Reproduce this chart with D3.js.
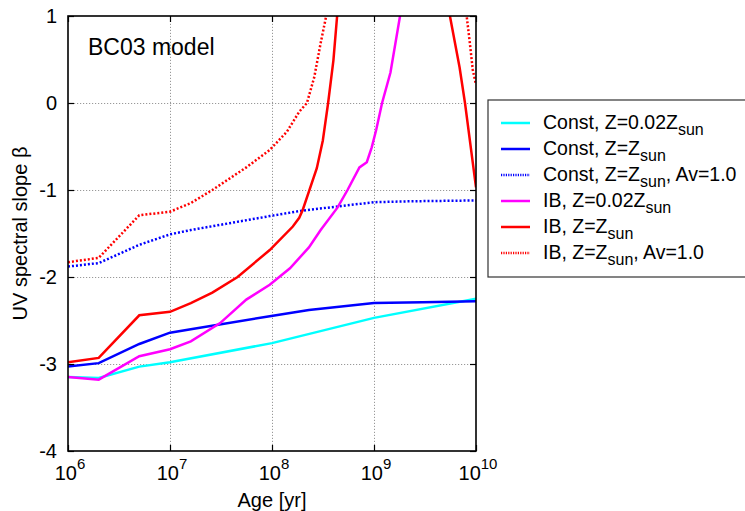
<!DOCTYPE html>
<html>
<head>
<meta charset="utf-8">
<script src="https://cdn.jsdelivr.net/npm/d3@7"></script>
<style>
  body { margin: 0; background: #fff; }
  text { font-family: "Liberation Sans", Arial, sans-serif; fill: #000; }
</style>
</head>
<body>
<script>
// ages in yr, beta = UV spectral slope
const ageConstLow = [1e6, 2e6, 5e6, 1e7, 1e8, 1e9, 1e10];
const betaConstLow = [-3.15, -3.16, -3.03, -2.98, -2.76, -2.47, -2.25];

const ageConstSun = [1e6, 2e6, 5e6, 1e7, 1.6e7, 9.5e7, 2.3e8, 1e9, 3e9, 1e10];
const betaConstSun = [-3.03, -2.99, -2.77, -2.64, -2.60, -2.45, -2.38, -2.30, -2.29, -2.28];

const ageConstDust = [1e6, 2e6, 5e6, 1e7, 1.6e7, 9.5e7, 1.9e8, 1e9, 2.2e9, 1e10];
const betaConstDust = [-1.88, -1.84, -1.63, -1.51, -1.46, -1.30, -1.24, -1.14, -1.13, -1.12];

const ageIBLow = [1e6, 2e6, 5e6, 1e7, 1.6e7, 3.1e7, 5.6e7, 9.5e7, 1.5e8, 2.3e8, 3.0e8, 4.4e8,
                  5.5e8, 7.2e8, 8.5e8, 9.5e8, 1.05e9, 1.2e9, 1.45e9, 1.8e9, 2.0e9];
const betaIBLow = [-3.15, -3.18, -2.91, -2.83, -2.74, -2.53, -2.26, -2.09, -1.90, -1.66, -1.46, -1.20,
                   -1.00, -0.74, -0.68, -0.51, -0.31, 0.0, 0.35, 1.0, 1.36];

const ageIBSun = [1e6, 2e6, 5e6, 1e7, 1.6e7, 2.6e7, 4.6e7, 9.5e7, 1.6e8, 1.85e8, 2.0e8, 2.75e8,
                  3.15e8, 3.55e8, 4.0e8, 4.35e8, 4.8e8, 2e9, 5.0e9, 5.55e9, 6.9e9, 7.8e9, 1e10];
const betaIBSun = [-2.98, -2.93, -2.44, -2.40, -2.30, -2.18, -2.00, -1.69, -1.42, -1.32, -1.23, -0.75,
                   -0.43, 0.0, 0.49, 1.0, 1.5, 3.0, 1.3, 1.0, 0.41, 0.0, -0.97];

const ageIBDust = [1e6, 2e6, 5e6, 1e7, 1.6e7, 2.6e7, 5.6e7, 9.5e7, 1.4e8, 1.85e8, 2.2e8, 2.6e8,
                   3.0e8, 3.4e8, 3.7e8, 2e9, 7.4e9, 8.1e9, 8.7e9, 9.3e9, 1e10];
const betaIBDust = [-1.83, -1.78, -1.29, -1.25, -1.15, -1.00, -0.74, -0.54, -0.33, -0.10, 0.0, 0.30,
                    0.69, 1.0, 1.4, 3.0, 1.4, 1.0, 0.69, 0.38, 0.21];

const xTicks = [1e6, 1e7, 1e8, 1e9, 1e10];
const xTickExp = ["6", "7", "8", "9", "10"];
const yTicks = [1, 0, -1, -2, -3, -4];

// legend: [main text, subscript, trailing text]
const series = [
  {age: ageConstLow, beta: betaConstLow, color: "#00ffff", dash: null, label: ["Const, Z=0.02Z", "sun", ""]},
  {age: ageConstSun, beta: betaConstSun, color: "#0000ff", dash: null, label: ["Const, Z=Z", "sun", ""]},
  {age: ageConstDust, beta: betaConstDust, color: "#0000ff", dash: "2,2", label: ["Const, Z=Z", "sun", ", Av=1.0"]},
  {age: ageIBLow, beta: betaIBLow, color: "#ff00ff", dash: null, label: ["IB, Z=0.02Z", "sun", ""]},
  {age: ageIBSun, beta: betaIBSun, color: "#ff0000", dash: null, label: ["IB, Z=Z", "sun", ""]},
  {age: ageIBDust, beta: betaIBDust, color: "#ff0000", dash: "2,2", label: ["IB, Z=Z", "sun", ", Av=1.0"]}
];

var margin = {top: 16, right: 269, bottom: 60, left: 68},
  width = 745 - margin.left - margin.right,
  height = 511 - margin.top - margin.bottom;

var svg = d3.select("body").append("svg")
  .attr("width", 745)
  .attr("height", 511);

var g = svg.append("g")
  .attr("transform", "translate(" + margin.left + "," + margin.top + ")");

var x = d3.scaleLog().domain([1e6, 1e10]).range([0, width]);
var y = d3.scaleLinear().domain([-4, 1]).range([height, 0]);

// grid
g.append("g")
  .attr("transform", "translate(0," + height + ")")
  .call(d3.axisBottom(x).tickValues(xTicks.slice(1, -1)).tickSize(-height).tickFormat(""))
  .call(a => a.select(".domain").remove())
  .selectAll("line").attr("stroke", "#999").attr("stroke-dasharray", "1.2,1.8");
g.append("g")
  .call(d3.axisLeft(y).tickValues(yTicks.slice(1, -1)).tickSize(-width).tickFormat(""))
  .call(a => a.select(".domain").remove())
  .selectAll("line").attr("stroke", "#999").attr("stroke-dasharray", "1.2,1.8");

// curves
g.append("clipPath").attr("id", "plotclip")
  .append("rect").attr("width", width).attr("height", height);

var line = d3.line()
  .x(d => x(d[0]))
  .y(d => y(d[1]));

series.forEach(function(s) {
  g.append("path")
    .datum(s.age.map((a, i) => [a, s.beta[i]]))
    .attr("clip-path", "url(#plotclip)")
    .attr("d", line)
    .attr("fill", "none")
    .attr("stroke", s.color)
    .attr("stroke-width", 2.5)
    .attr("stroke-dasharray", s.dash);
});

// inward ticks on all four sides
function tickStyle(a) {
  a.select(".domain").remove();
  a.selectAll("line").attr("stroke", "#000").attr("stroke-width", 1.2);
}
g.append("g").attr("transform", "translate(0," + height + ")")
  .call(d3.axisBottom(x).tickValues(xTicks).tickSize(-6).tickFormat("")).call(tickStyle);
g.append("g")
  .call(d3.axisTop(x).tickValues(xTicks).tickSize(-6).tickFormat("")).call(tickStyle);
g.append("g")
  .call(d3.axisLeft(y).tickValues(yTicks).tickSize(-6).tickFormat("")).call(tickStyle);
g.append("g").attr("transform", "translate(" + width + ",0)")
  .call(d3.axisRight(y).tickValues(yTicks).tickSize(-6).tickFormat("")).call(tickStyle);

// frame
g.append("rect")
  .attr("width", width).attr("height", height)
  .attr("fill", "none").attr("stroke", "#000").attr("stroke-width", 1.6);

// tick labels
g.selectAll(".ylab").data(yTicks).enter().append("text")
  .attr("x", -11)
  .attr("y", d => y(d) + 7)
  .attr("text-anchor", "end")
  .style("font-size", "20px")
  .text(d => d);

var xl = g.selectAll(".xlab").data(xTicks).enter().append("text")
  .attr("x", d => x(d) + 2)
  .attr("y", height + 29)
  .attr("text-anchor", "middle")
  .style("font-size", "20px");
xl.append("tspan").text("10");
xl.append("tspan").attr("dy", -11).style("font-size", "15px").text((d, i) => xTickExp[i]);

// axis titles
g.append("text")
  .attr("x", width / 2)
  .attr("y", height + 56)
  .attr("text-anchor", "middle")
  .style("font-size", "20px")
  .text("Age [yr]");

svg.append("text")
  .attr("transform", "translate(27," + (margin.top + height / 2) + ") rotate(-90)")
  .attr("text-anchor", "middle")
  .style("font-size", "20px")
  .text("UV spectral slope β");

g.append("text")
  .attr("x", 20)
  .attr("y", 39)
  .style("font-size", "23px")
  .text("BC03 model");

// legend
var legend = svg.append("g").attr("transform", "translate(488,100)");
legend.append("rect")
  .attr("width", 262).attr("height", 177)
  .attr("fill", "#fff").attr("stroke", "#333").attr("stroke-width", 1.2);

var rows = legend.selectAll(".row").data(series).enter().append("g")
  .attr("transform", (d, i) => "translate(0," + (23 + i * 26) + ")");
rows.append("line")
  .attr("x1", 13).attr("x2", 42)
  .attr("stroke", d => d.color)
  .attr("stroke-width", 2.5)
  .attr("stroke-dasharray", d => d.dash ? "1.2,1.2" : null);
var lt = rows.append("text")
  .attr("x", 55).attr("y", 6)
  .style("font-size", "19.5px");
lt.append("tspan").text(d => d.label[0]);
lt.append("tspan").attr("dy", 6).style("font-size", "16px").text(d => d.label[1]);
lt.append("tspan").attr("dy", -6).text(d => d.label[2]);
</script>
</body>
</html>
